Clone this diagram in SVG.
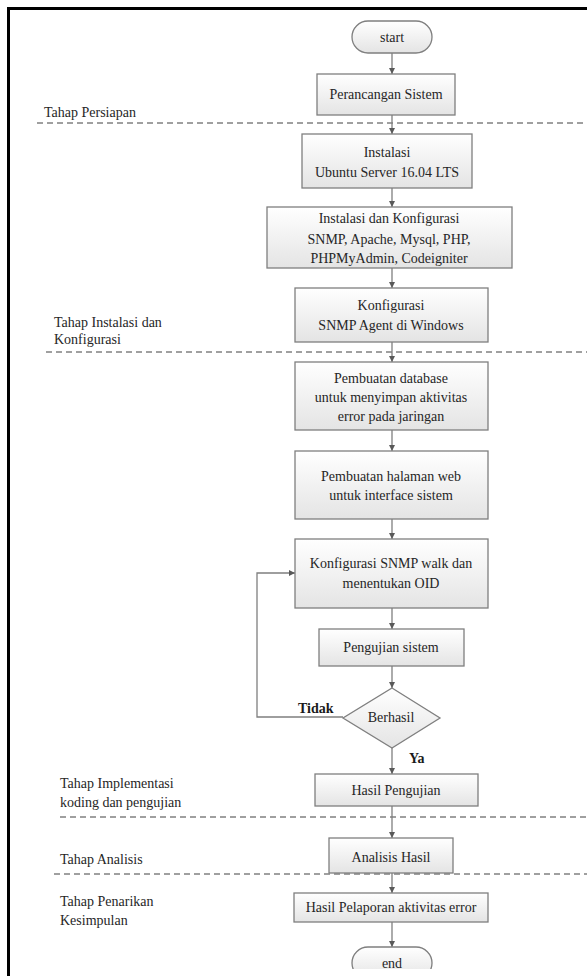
<svg xmlns="http://www.w3.org/2000/svg" width="587" height="976" viewBox="0 0 587 976">
<defs>
<linearGradient id="g" x1="0" y1="0" x2="0" y2="1">
<stop offset="0" stop-color="#ffffff"/>
<stop offset="1" stop-color="#e4e4e4"/>
</linearGradient>
<marker id="ah" viewBox="0 0 10 10" refX="10" refY="5" markerWidth="6" markerHeight="6" markerUnits="userSpaceOnUse" orient="auto">
<path d="M0,0 L10,5 L0,10 z" fill="#595959"/>
</marker>
<clipPath id="clipEnd"><rect x="0" y="0" width="587" height="969"/></clipPath>
</defs>
<style>
.box{fill:url(#g);stroke:#7f7f7f;stroke-width:1.3}
.t{font-family:'Liberation Serif','DejaVu Serif',serif;font-size:14px;fill:#262626;text-anchor:middle}
.lab{font-family:'Liberation Serif','DejaVu Serif',serif;font-size:14px;fill:#262626}
.b{font-family:'Liberation Serif','DejaVu Serif',serif;font-size:14px;font-weight:bold;fill:#1a1a1a}
.c{fill:none;stroke:#7f7f7f;stroke-width:1.3;marker-end:url(#ah)}
.d{fill:none;stroke:#404040;stroke-width:1;stroke-dasharray:6,4}
</style>
<rect x="0" y="0" width="587" height="976" fill="#ffffff"/>
<path d="M8.5,990 V8.5 H600" fill="none" stroke="#000" stroke-width="3"/>

<g id="phases">
<line class="d" x1="37" y1="123" x2="587" y2="123"/>
<line class="d" x1="46" y1="352" x2="587" y2="352"/>
<line class="d" x1="60" y1="817" x2="587" y2="817"/>
<line class="d" x1="54" y1="874" x2="587" y2="874"/>
<text class="lab" x="44" y="117" font-family="Liberation Serif, serif">Tahap Persiapan</text>
<text class="lab" x="54" y="327" font-family="Liberation Serif, serif">Tahap Instalasi dan</text>
<text class="lab" x="54" y="344" font-family="Liberation Serif, serif">Konfigurasi</text>
<text class="lab" x="60" y="788" font-family="Liberation Serif, serif">Tahap Implementasi</text>
<text class="lab" x="60" y="807" font-family="Liberation Serif, serif">koding dan pengujian</text>
<text class="lab" x="60" y="864" font-family="Liberation Serif, serif">Tahap Analisis</text>
<text class="lab" x="60" y="906" font-family="Liberation Serif, serif">Tahap Penarikan</text>
<text class="lab" x="60" y="925" font-family="Liberation Serif, serif">Kesimpulan</text>
</g>

<g id="connectors">
<line class="c" x1="392" y1="53" x2="392" y2="74"/>
<line class="c" x1="392" y1="115" x2="392" y2="134"/>
<line class="c" x1="392" y1="188" x2="392" y2="207"/>
<line class="c" x1="392" y1="268" x2="392" y2="288"/>
<line class="c" x1="392" y1="342" x2="392" y2="362"/>
<line class="c" x1="392" y1="430" x2="392" y2="451"/>
<line class="c" x1="392" y1="519" x2="392" y2="539"/>
<line class="c" x1="392" y1="608" x2="392" y2="629"/>
<line class="c" x1="392" y1="666" x2="392" y2="688"/>
<line class="c" x1="392" y1="748" x2="392" y2="774"/>
<line class="c" x1="392" y1="806" x2="392" y2="838"/>
<line class="c" x1="392" y1="873" x2="392" y2="893"/>
<line class="c" x1="392" y1="922" x2="392" y2="947"/>
<polyline class="c" points="343,717 257,717 257,573 295,573"/>
<text class="b" x="298" y="713" font-family="Liberation Serif, serif">Tidak</text>
<text class="b" x="409" y="763" font-family="Liberation Serif, serif">Ya</text>
</g>

<g id="start">
<rect class="box" x="352" y="21" width="80" height="32" rx="16"/>
<text class="t" x="392" y="42" font-family="Liberation Serif, serif">start</text>
</g>
<g id="perancangan">
<rect class="box" x="317" y="74" width="138" height="41"/>
<text class="t" x="386" y="99" font-family="Liberation Serif, serif">Perancangan Sistem</text>
</g>
<g id="instalasi-ubuntu">
<rect class="box" x="302" y="134" width="170" height="54"/>
<text class="t" x="387" y="157" font-family="Liberation Serif, serif">Instalasi</text>
<text class="t" x="387" y="177" font-family="Liberation Serif, serif">Ubuntu Server 16.04 LTS</text>
</g>
<g id="instalasi-konfigurasi">
<rect class="box" x="267" y="207" width="245" height="61"/>
<text class="t" x="389" y="223" font-family="Liberation Serif, serif">Instalasi dan Konfigurasi</text>
<text class="t" x="389" y="244" font-family="Liberation Serif, serif">SNMP, Apache, Mysql, PHP,</text>
<text class="t" x="389" y="263" font-family="Liberation Serif, serif">PHPMyAdmin, Codeigniter</text>
</g>
<g id="konfigurasi-agent">
<rect class="box" x="295" y="288" width="193" height="54"/>
<text class="t" x="391" y="310" font-family="Liberation Serif, serif">Konfigurasi</text>
<text class="t" x="391" y="330" font-family="Liberation Serif, serif">SNMP Agent di Windows</text>
</g>
<g id="pembuatan-database">
<rect class="box" x="295" y="362" width="193" height="68"/>
<text class="t" x="391" y="383" font-family="Liberation Serif, serif">Pembuatan database</text>
<text class="t" x="391" y="402" font-family="Liberation Serif, serif">untuk menyimpan aktivitas</text>
<text class="t" x="391" y="421" font-family="Liberation Serif, serif">error pada jaringan</text>
</g>
<g id="pembuatan-web">
<rect class="box" x="295" y="451" width="193" height="68"/>
<text class="t" x="391" y="481" font-family="Liberation Serif, serif">Pembuatan halaman web</text>
<text class="t" x="391" y="500" font-family="Liberation Serif, serif">untuk interface sistem</text>
</g>
<g id="snmp-walk">
<rect class="box" x="295" y="539" width="193" height="69"/>
<text class="t" x="391" y="568" font-family="Liberation Serif, serif">Konfigurasi SNMP walk dan</text>
<text class="t" x="391" y="588" font-family="Liberation Serif, serif">menentukan OID</text>
</g>
<g id="pengujian">
<rect class="box" x="319" y="629" width="145" height="37"/>
<text class="t" x="391" y="652" font-family="Liberation Serif, serif">Pengujian sistem</text>
</g>
<g id="berhasil">
<polygon class="box" points="392,688 440,718 392,748 343,718"/>
<text class="t" x="391" y="722" font-family="Liberation Serif, serif">Berhasil</text>
</g>
<g id="hasil-pengujian">
<rect class="box" x="315" y="774" width="163" height="32"/>
<text class="t" x="396" y="795" font-family="Liberation Serif, serif">Hasil Pengujian</text>
</g>
<g id="analisis">
<rect class="box" x="329" y="838" width="124" height="35"/>
<text class="t" x="391" y="862" font-family="Liberation Serif, serif">Analisis Hasil</text>
</g>
<g id="pelaporan">
<rect class="box" x="294" y="893" width="194" height="29"/>
<text class="t" x="391" y="912" font-family="Liberation Serif, serif">Hasil Pelaporan aktivitas error</text>
</g>
<g id="end" clip-path="url(#clipEnd)">
<rect class="box" x="352" y="947" width="80" height="32" rx="16"/>
<text class="t" x="392" y="968" font-family="Liberation Serif, serif">end</text>
</g>
</svg>
